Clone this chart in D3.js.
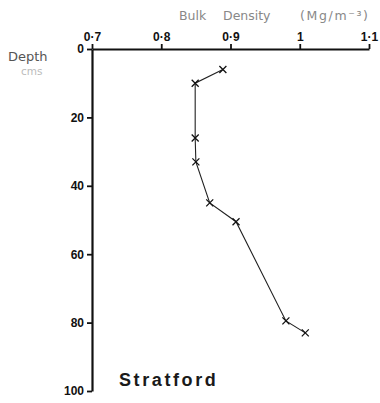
<!DOCTYPE html>
<html>
<head>
<meta charset="utf-8">
<script src="https://cdn.jsdelivr.net/npm/d3@7"></script>
<style>
  body { margin: 0; background: #fff; }
  text { font-family: "Liberation Sans", Arial, sans-serif; }
</style>
</head>
<body>
<div id="chart"></div>
<script>
// Stratford soil profile: bulk density vs depth
var depth = [6, 10, 26, 33, 45, 50.5, 79.5, 83];
var density = [0.889, 0.849, 0.849, 0.85, 0.87, 0.908, 0.98, 1.008];
var xTicks = [0.7, 0.8, 0.9, 1.0, 1.1];
var xTickLabels = ["0·7", "0·8", "0·9", "1", "1·1"];
var yTicks = [0, 20, 40, 60, 80, 100];

var width = 380, height = 403;
var svg = d3.select("#chart").append("svg")
  .attr("width", width).attr("height", height);

var x = d3.scaleLinear().domain([0.7, 1.1]).range([92, 369]);
var y = d3.scaleLinear().domain([0, 100]).range([49, 391]);

// top axis
var xAxis = svg.append("g")
  .attr("transform", "translate(0," + y(0) + ")")
  .call(d3.axisTop(x).tickValues(xTicks)
    .tickFormat(function(d, i) { return xTickLabels[i]; })
    .tickSize(5).tickSizeOuter(0).tickPadding(3));
xAxis.select(".domain").attr("stroke", "#111").attr("stroke-width", 2.2);
xAxis.selectAll(".tick line").attr("stroke", "#111").attr("stroke-width", 1.8);
xAxis.selectAll("text")
  .attr("style", "font-size:12px;font-weight:bold;fill:#111");

// left axis
var yAxis = svg.append("g")
  .attr("transform", "translate(" + x(0.7) + ",0)")
  .call(d3.axisLeft(y).tickValues(yTicks)
    .tickSize(5).tickSizeOuter(0).tickPadding(3));
yAxis.select(".domain").attr("stroke", "#111").attr("stroke-width", 2.2);
yAxis.selectAll(".tick line").attr("stroke", "#111").attr("stroke-width", 1.8);
yAxis.selectAll("text")
  .attr("style", "font-size:12px;font-weight:bold;fill:#111");

// the profile line
var pts = depth.map(function(d, i) { return [density[i], d]; });
svg.append("path")
  .datum(pts)
  .attr("fill", "none")
  .attr("stroke", "#222")
  .attr("stroke-width", 1.1)
  .attr("d", d3.line()
    .x(function(d) { return x(d[0]); })
    .y(function(d) { return y(d[1]); }));

// x markers
var s = 3.5;
svg.selectAll(".mark")
  .data(pts)
  .enter().append("path")
  .attr("class", "mark")
  .attr("stroke", "#111")
  .attr("stroke-width", 1.3)
  .attr("d", function(d) {
    var cx = x(d[0]), cy = y(d[1]);
    return "M" + (cx - s) + "," + (cy - s) + "L" + (cx + s) + "," + (cy + s) +
      "M" + (cx - s) + "," + (cy + s) + "L" + (cx + s) + "," + (cy - s);
  });

// titles
var tstyle = "font-family:'DejaVu Sans';font-size:12.5px;fill:#888";
svg.append("text").attr("x", 179).attr("y", 20)
  .attr("style", tstyle).text("Bulk");
svg.append("text").attr("x", 223).attr("y", 20)
  .attr("style", tstyle).text("Density");
svg.append("text").attr("x", 300).attr("y", 20)
  .attr("style", tstyle).attr("textLength", 68).text("(Mg/m⁻³)");

svg.append("text")
  .attr("x", 8).attr("y", 61)
  .attr("style", "font-family:'DejaVu Sans';font-size:13px;fill:#555")
  .text("Depth");
svg.append("text")
  .attr("x", 21).attr("y", 75)
  .attr("style", "font-family:'DejaVu Sans';font-size:10.5px;fill:#bbb")
  .text("cms");

svg.append("text")
  .attr("x", 119).attr("y", 386)
  .attr("style", "font-size:18px;font-weight:bold;fill:#1a1a1a;letter-spacing:2.6px")
  .text("Stratford");
</script>
</body>
</html>
